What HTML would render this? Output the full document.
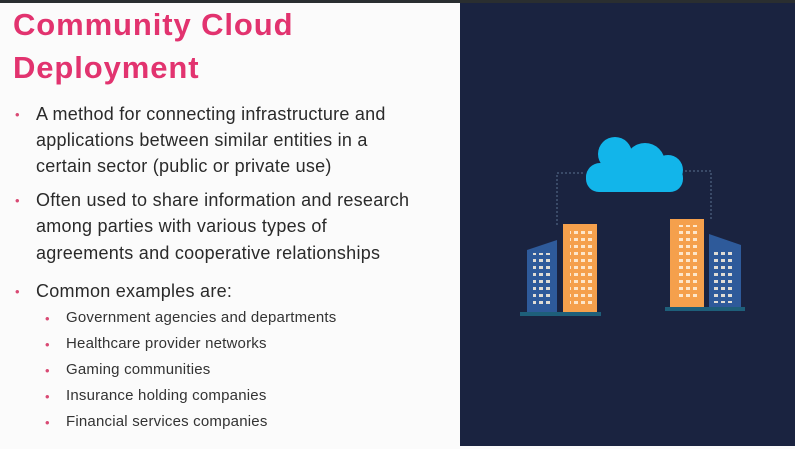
<!DOCTYPE html>
<html><head><style>
body{margin:0;width:795px;height:449px;overflow:hidden;background:#fbfbfb;font-family:"Liberation Sans",sans-serif;position:relative}
.t{position:absolute;left:13px;color:#e2336f;font-weight:bold;font-size:31px;letter-spacing:0.9px}
.p{position:absolute;left:36px;font-size:18px;letter-spacing:0.25px;color:#2a2a2a}
.s{position:absolute;left:66px;font-size:15px;letter-spacing:0.2px;color:#333}
.d{position:absolute;color:#d94a74;font-size:13px}
</style></head><body>
<div style="position:absolute;left:0;top:0;width:795px;height:3px;background:#2a2e30"></div>
<div class="t" style="top:7px">Community Cloud</div>
<div class="t" style="top:50px">Deployment</div>
<div class="d" style="left:15px;top:107px">•</div>
<div class="p" style="top:104px">A method for connecting infrastructure and</div>
<div class="p" style="top:130px">applications between similar entities in a</div>
<div class="p" style="top:156px">certain sector (public or private use)</div>
<div class="d" style="left:15px;top:193px">•</div>
<div class="p" style="top:190px">Often used to share information and research</div>
<div class="p" style="top:216px">among parties with various types of</div>
<div class="p" style="top:243px">agreements and cooperative relationships</div>
<div class="d" style="left:15px;top:284px">•</div>
<div class="p" style="top:281px">Common examples are:</div>
<div class="d" style="left:45px;top:311px">•</div><div class="s" style="top:309px">Government agencies and departments</div>
<div class="d" style="left:45px;top:337px">•</div><div class="s" style="top:335px">Healthcare provider networks</div>
<div class="d" style="left:45px;top:363px">•</div><div class="s" style="top:361px">Gaming communities</div>
<div class="d" style="left:45px;top:389px">•</div><div class="s" style="top:387px">Insurance holding companies</div>
<div class="d" style="left:45px;top:415px">•</div><div class="s" style="top:413px">Financial services companies</div>
<svg style="position:absolute;left:460px;top:3px" width="335" height="443" viewBox="460 3 335 443">
<rect x="460" y="3" width="335" height="443" fill="#1a2340"/>
<path d="M557 225 V173 H585 M685 171 H711 V220" fill="none" stroke="#5a7090" stroke-width="1" stroke-dasharray="2 2"/>
<g fill="#12b5ea">
<circle cx="615" cy="154" r="17"/><circle cx="645" cy="163" r="20"/><circle cx="668" cy="170" r="15"/><circle cx="600" cy="177" r="14"/>
<rect x="586" y="165" width="97" height="27" rx="13"/>
</g>
<polygon points="527,250 557,240 557,313 527,313" fill="#2e5a9a"/>
<rect x="563" y="224" width="34" height="89" fill="#f5a04c"/>
<rect x="520" y="312" width="81" height="4" fill="#1e5f7a"/>
<rect x="670" y="219" width="34" height="89" fill="#f5a04c"/>
<polygon points="709,234 741,245 741,308 709,308" fill="#2e5a9a"/>
<rect x="665" y="307" width="80" height="4" fill="#1e5f7a"/>
<g fill="#fff" opacity="0.85">
<rect x="570" y="230" width="22" height="75" fill="url(#w)"/>
<rect x="676" y="225" width="22" height="75" fill="url(#w)"/>
<rect x="533" y="253" width="18" height="55" fill="url(#w)"/>
<rect x="714" y="248" width="20" height="55" fill="url(#w)"/>
</g>
<defs><pattern id="w" width="7" height="7" patternUnits="userSpaceOnUse"><rect width="4" height="3" fill="#fff3e0"/></pattern></defs>
</svg>
</body></html>
